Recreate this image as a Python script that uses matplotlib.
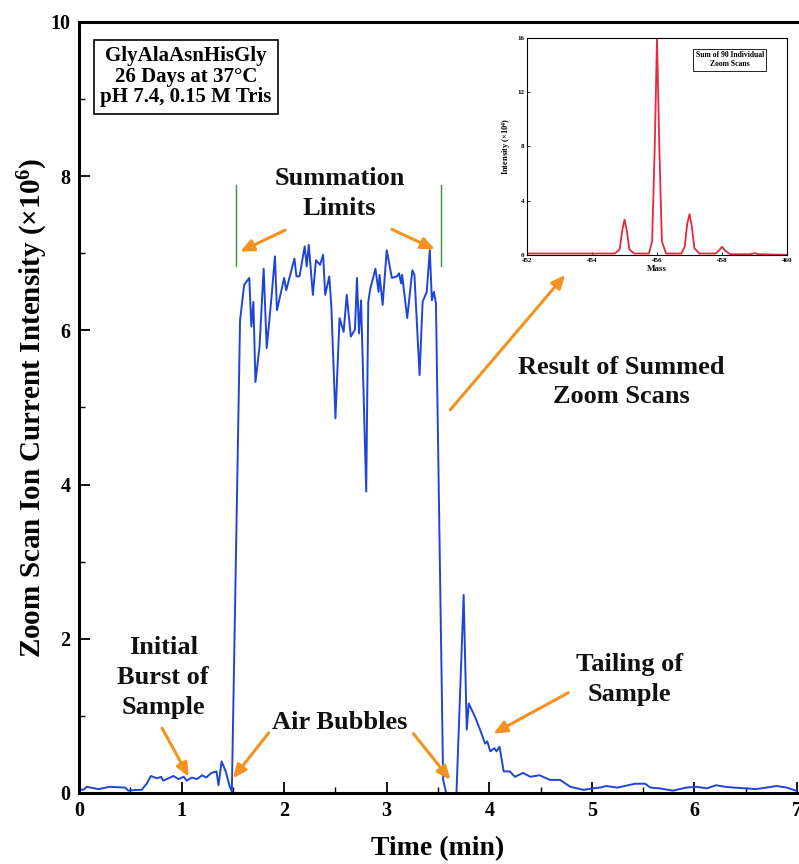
import matplotlib
matplotlib.use("Agg")
import matplotlib.pyplot as plt

plt.rcParams["font.family"] = ["Liberation Serif", "DejaVu Serif"]
plt.rcParams["font.weight"] = "bold"
plt.rcParams["mathtext.fontset"] = "custom"
plt.rcParams["mathtext.rm"] = "Liberation Serif:bold"
plt.rcParams["mathtext.default"] = "rm"

# main trace: time (min) vs zoom scan ion current (x10^6)
time_min = [0.0, 0.04, 0.075, 0.19, 0.30, 0.45, 0.48, 0.55, 0.61, 0.66, 0.70,
            0.76, 0.80, 0.82, 0.87, 0.92, 0.97, 1.02, 1.05, 1.10, 1.15, 1.20,
            1.24, 1.29, 1.34, 1.36, 1.39, 1.43, 1.47, 1.49, 1.57, 1.61, 1.66,
            1.68, 1.70, 1.72, 1.76, 1.80, 1.83, 1.88, 1.91, 1.93, 2.00, 2.02,
            2.10, 2.12, 2.15, 2.20, 2.22, 2.24, 2.28, 2.31, 2.35, 2.38, 2.40,
            2.44, 2.46, 2.50, 2.54, 2.58, 2.61, 2.65, 2.69, 2.71, 2.73, 2.75,
            2.80, 2.82, 2.84, 2.89, 2.92, 2.93, 2.96, 3.00, 3.05, 3.10, 3.12,
            3.14, 3.15, 3.20, 3.25, 3.27, 3.32, 3.35, 3.39, 3.42, 3.44, 3.46,
            3.48, 3.55, 3.58, 3.68, 3.75, 3.78, 3.80, 3.86, 3.91, 3.96, 3.98,
            4.01, 4.05, 4.07, 4.10, 4.14, 4.20, 4.25, 4.33, 4.40, 4.49, 4.59,
            4.69, 4.79, 4.92, 5.01, 5.08, 5.14, 5.25, 5.42, 5.52, 5.57, 5.66,
            5.79, 5.92, 6.02, 6.12, 6.21, 6.30, 6.38, 6.50, 6.60, 6.70, 6.80,
            6.90, 6.99, 7.0]
intensity = [0.05, 0.04, 0.08, 0.05, 0.08, 0.07, 0.03, 0.04, 0.04, 0.12, 0.22,
             0.19, 0.21, 0.16, 0.19, 0.22, 0.18, 0.21, 0.16, 0.20, 0.18, 0.23,
             0.20, 0.26, 0.28, 0.10, 0.41, 0.28, 0.08, 0.02, 6.13, 6.59, 6.68,
             6.05, 6.37, 5.33, 5.79, 6.80, 5.77, 6.48, 6.96, 6.26, 6.68, 6.52,
             6.93, 6.70, 6.70, 7.09, 6.83, 7.11, 6.46, 6.91, 6.85, 6.98, 6.46,
             6.70, 6.31, 4.86, 6.16, 5.98, 6.46, 5.92, 6.01, 6.68, 5.96, 6.39,
             3.91, 6.37, 6.54, 6.80, 6.50, 6.72, 6.33, 7.04, 6.68, 6.70, 6.74,
             6.61, 6.72, 6.16, 6.78, 6.72, 5.42, 6.37, 6.50, 7.04, 6.39, 6.50,
             6.35, 0.17, 0.0, 0.0, 2.57, 0.82, 1.16, 0.99, 0.82, 0.64, 0.67,
             0.54, 0.58, 0.54, 0.60, 0.28, 0.28, 0.21, 0.26, 0.21, 0.23, 0.17,
             0.17, 0.08, 0.04, 0.06, 0.07, 0.09, 0.07, 0.12, 0.12, 0.07, 0.06,
             0.03, 0.07, 0.08, 0.06, 0.10, 0.08, 0.07, 0.06, 0.05, 0.07, 0.09,
             0.07, 0.03, 0.03]

# summation limits (min) and their vertical extent
sum_limits = [1.53, 3.525]
sum_limit_y = [6.83, 7.89]

# inset: summed zoom scan spectrum
mass = [452.0, 454.7, 454.85, 454.93, 455.0, 455.07, 455.15, 455.3, 455.75,
        455.85, 455.93, 456.0, 456.07, 456.15, 456.28, 456.75, 456.85, 456.93,
        457.0, 457.07, 457.15, 457.3, 457.8, 457.9, 458.0, 458.1, 458.25,
        458.85, 459.0, 459.15, 460.0]
mass_int = [0.1, 0.1, 0.4, 1.8, 2.6, 1.8, 0.4, 0.1, 0.1, 1.0, 8.0, 16.0, 8.0,
            1.0, 0.1, 0.1, 0.6, 2.3, 3.0, 2.1, 0.5, 0.1, 0.1, 0.3, 0.6, 0.3,
            0.05, 0.05, 0.12, 0.05, 0.0]

# annotations: (text, text position, [arrow tail, arrow head] list)
notes = [
    ("Summation\nLimits", (2.54, 7.77), [((2.01, 7.30), (1.57, 7.02)),
                                         ((3.05, 7.31), (3.47, 7.05))]),
    ("Result of Summed\nZoom Scans", (5.29, 5.33), [((3.62, 4.97), (4.74, 6.72))]),
    ("Initial\nBurst of\nSample", (0.82, 1.50), [((0.81, 0.84), (1.07, 0.21))]),
    ("Air Bubbles", (2.54, 0.92), [((1.85, 0.78), (1.50, 0.19)),
                                   ((3.26, 0.77), (3.62, 0.17))]),
    ("Tailing of\nSample", (5.37, 1.47), [((4.77, 1.30), (4.04, 0.77))]),
]
orange = "#f3921e"


def main_plot(fig):
    ax = fig.add_axes([0.0989, 0.0822, 0.8986, 0.8924])
    ax.plot(time_min, intensity, color="#1f45d6", lw=1.4)
    for t in sum_limits:
        ax.plot([t, t], sum_limit_y, color="#3f8a3c", lw=1.0)
    for text, pos, arrows in notes:
        ax.text(pos[0], pos[1], text, ha="center", va="center", fontsize=19,
                fontweight="bold", linespacing=1.38, color="#111111")
        for tail, head in arrows:
            ax.annotate("", xy=head, xytext=tail,
                        arrowprops=dict(arrowstyle="-|>,head_length=0.8,head_width=0.35",
                                        color=orange, lw=2.2, shrinkA=0, shrinkB=0))
    ax.text(0.149, 0.929, "GlyAlaAsnHisGly\n26 Days at 37°C\npH 7.4, 0.15 M Tris",
            transform=ax.transAxes, ha="center", va="center", fontsize=15,
            fontweight="bold", linespacing=1.05,
            bbox=dict(boxstyle="square,pad=0.3", fc="white", ec="black", lw=1.2))
    ax.set_xlim(0, 7)
    ax.set_ylim(0, 10)
    ax.set_xticks(range(0, 8))
    ax.set_xticks([i * 0.5 for i in range(15)], minor=True)
    ax.set_yticks(range(0, 11, 2))
    ax.set_yticks(range(0, 11), minor=True)
    ax.tick_params(direction="in", which="major", length=8, width=1.3,
                   labelsize=14.5, pad=6)
    ax.tick_params(direction="in", which="minor", length=4, width=1.0)
    ax.spines["right"].set_visible(False)
    for s in ["left", "bottom", "top"]:
        ax.spines[s].set_linewidth(2.2)
    ax.set_xlabel("Time (min)", fontsize=20, fontweight="bold")
    ax.xaxis.set_label_coords(0.5, -0.056)
    ax.set_ylabel("Zoom Scan Ion Current Intensity (×10$^6$)", fontsize=21,
                  fontweight="bold")
    ax.yaxis.set_label_coords(-0.041, 0.50)


def inset_plot(fig):
    ax = fig.add_axes([0.6596, 0.705, 0.3254, 0.251])
    ax.plot(mass, mass_int, color="#e8283c", lw=1.3)
    ax.set_xlim(452, 460)
    ax.set_ylim(0, 16)
    ax.set_xticks([452, 454, 456, 458, 460])
    ax.set_yticks([0, 4, 8, 12, 16])
    ax.tick_params(direction="in", length=2, width=0.6, labelsize=5, pad=2)
    for s in ax.spines.values():
        s.set_linewidth(0.8)
    ax.set_xlabel("Mass", fontsize=6.5, fontweight="bold", labelpad=2)
    ax.set_ylabel("Intensity (×10$^4$)", fontsize=6, fontweight="bold", labelpad=3)
    ax.text(0.78, 0.9, "Sum of 90 Individual\nZoom Scans", transform=ax.transAxes,
            ha="center", va="center", fontsize=5.5, fontweight="bold",
            bbox=dict(boxstyle="square,pad=0.3", fc="white", ec="black", lw=0.6))


def main():
    fig = plt.figure(figsize=(7.99, 8.64), dpi=100)
    main_plot(fig)
    inset_plot(fig)
    fig.savefig("out.png", dpi=100)


if __name__ == "__main__":
    main()
